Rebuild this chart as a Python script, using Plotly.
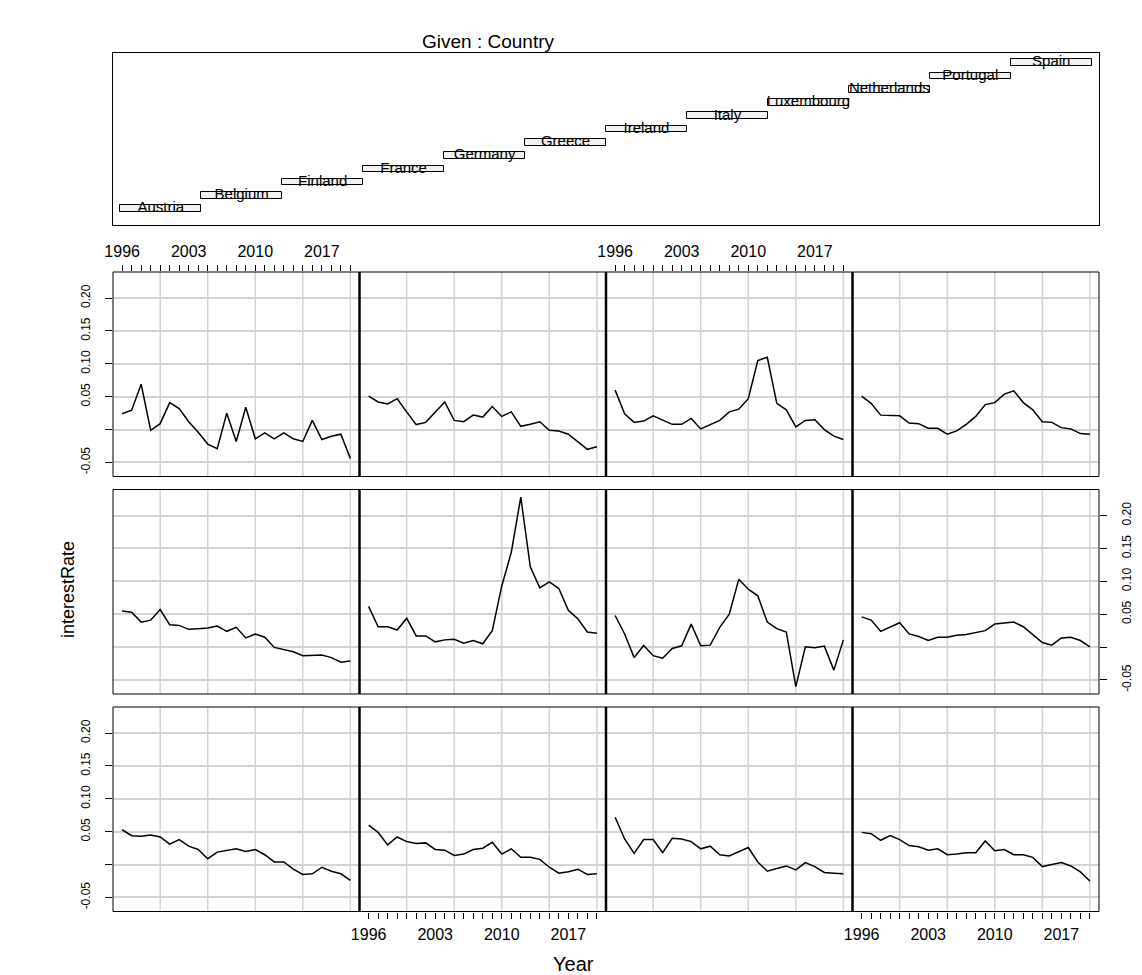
import plotly.graph_objects as go

W, H = 1142, 975

years = list(range(1996, 2021))
countries = ["Austria", "Belgium", "Finland", "France", "Germany", "Greece",
             "Ireland", "Italy", "Luxembourg", "Netherlands", "Portugal", "Spain"]

austria = [0.053, 0.044, 0.043, 0.045, 0.042, 0.031, 0.038, 0.028, 0.023, 0.009,
           0.019, 0.021, 0.024, 0.020, 0.023, 0.015, 0.004, 0.004, -0.007, -0.015,
           -0.014, -0.004, -0.010, -0.014, -0.024]
belgium = [0.060, 0.049, 0.030, 0.042, 0.035, 0.032, 0.033, 0.023, 0.022, 0.014,
           0.016, 0.023, 0.025, 0.034, 0.016, 0.024, 0.011, 0.011, 0.008, -0.004,
           -0.013, -0.011, -0.007, -0.015, -0.014]
finland = [0.072, 0.039, 0.017, 0.038, 0.038, 0.018, 0.040, 0.039, 0.035, 0.024,
           0.028, 0.015, 0.013, 0.020, 0.026, 0.004, -0.010, -0.006, -0.002, -0.008,
           0.003, -0.003, -0.012, -0.013, -0.014]
france = [0.049, 0.047, 0.037, 0.044, 0.038, 0.029, 0.027, 0.022, 0.024, 0.015,
          0.016, 0.018, 0.018, 0.036, 0.021, 0.023, 0.015, 0.015, 0.011, -0.003,
          0.000, 0.003, -0.002, -0.011, -0.025]
germany = [0.055, 0.053, 0.038, 0.041, 0.057, 0.034, 0.033, 0.027, 0.028, 0.029,
           0.032, 0.024, 0.030, 0.014, 0.020, 0.015, -0.0005, -0.004, -0.007, -0.013,
           -0.013, -0.012, -0.016, -0.023, -0.021]
greece = [0.062, 0.031, 0.031, 0.026, 0.044, 0.017, 0.017, 0.008, 0.011, 0.012,
          0.006, 0.010, 0.005, 0.025, 0.093, 0.144, 0.228, 0.122, 0.090, 0.099,
          0.089, 0.056, 0.043, 0.023, 0.021]
ireland = [0.048, 0.020, -0.016, 0.0025, -0.013, -0.017, -0.002, 0.002, 0.035, 0.002,
           0.003, 0.030, 0.050, 0.103, 0.088, 0.078, 0.038, 0.028, 0.023, -0.060,
           0.0005, -0.001, 0.0015, -0.035, 0.011]
italy = [0.046, 0.041, 0.024, 0.031, 0.037, 0.020, 0.016, 0.010, 0.015, 0.015,
         0.018, 0.019, 0.022, 0.025, 0.035, 0.037, 0.038, 0.031, 0.019, 0.007,
         0.003, 0.014, 0.015, 0.010, 0.0005]
luxembourg = [0.024, 0.0295, 0.069, -0.001, 0.009, 0.041, 0.032, 0.012, -0.004, -0.022,
              -0.029, 0.025, -0.018, 0.034, -0.014, -0.005, -0.014, -0.005, -0.014, -0.018,
              0.014, -0.015, -0.010, -0.007, -0.044]
netherlands = [0.051, 0.042, 0.039, 0.047, 0.027, 0.0076, 0.011, 0.026, 0.042, 0.014,
               0.012, 0.022, 0.019, 0.035, 0.020, 0.027, 0.005, 0.008, 0.012, -0.001,
               -0.002, -0.007, -0.018, -0.030, -0.026]
portugal = [0.060, 0.024, 0.011, 0.013, 0.021, 0.014, 0.008, 0.008, 0.017, 0.001,
            0.007, 0.014, 0.027, 0.031, 0.047, 0.105, 0.110, 0.040, 0.030, 0.004,
            0.014, 0.015, 0.000, -0.010, -0.015]
spain = [0.051, 0.040, 0.022, 0.022, 0.021, 0.010, 0.009, 0.002, 0.002, -0.007,
         -0.002, 0.008, 0.020, 0.038, 0.041, 0.054, 0.059, 0.041, 0.030, 0.012,
         0.011, 0.003, 0.001, -0.006, -0.007]

series = [austria, belgium, finland, france, germany, greece,
          ireland, italy, luxembourg, netherlands, portugal, spain]

x_tickvals = years
x_ticktext = [str(y) if y in (1996, 2003, 2010, 2017) else "" for y in years]
x_gridvals = [2000, 2005, 2010, 2015, 2020]
y_tickvals = [-0.05, 0.00, 0.05, 0.10, 0.15, 0.20]
y_ticktext = ["-0.05", "", "0.05", "0.10", "0.15", "0.20"]

XR = [1995.04, 2020.96]
YR = [-0.0713, 0.2396]

FONT = "Liberation Sans, Arial, sans-serif"
GRID = "#D3D3D3"


def px(x):
    return x / W


def py(y):
    return 1 - y / H


col_left = [113 + c * 246.5 for c in range(4)]
col_w = 246.5
row_top = [272, 489.5, 707]
row_h = 204.5

fig = go.Figure()
layout = {}
shapes = []

for k, (name, vals) in enumerate(zip(countries, series)):
    n = k + 1
    c = k % 4
    t = 2 - k // 4
    xa = "x" if n == 1 else f"x{n}"
    ya = "y" if n == 1 else f"y{n}"
    xkey = "xaxis" if n == 1 else f"xaxis{n}"
    ykey = "yaxis" if n == 1 else f"yaxis{n}"
    L = col_left[c]
    R = L + col_w
    T = row_top[t]
    B = T + row_h

    fig.add_trace(go.Scatter(x=years, y=vals, mode="lines", name=name,
                             line=dict(color="black", width=1.5),
                             xaxis=xa, yaxis=ya, showlegend=False,
                             hoverinfo="x+y"))

    xlab_top = (t == 0 and c in (0, 2))
    xlab_bot = (t == 2 and c in (1, 3))
    xd = dict(domain=[px(L), px(R)], range=XR, anchor=ya, automargin=False,
              showgrid=False, zeroline=False, showline=False,
              fixedrange=True)
    if xlab_top or xlab_bot:
        xd.update(side="top" if xlab_top else "bottom",
                  tickmode="array", tickvals=x_tickvals, ticktext=x_ticktext,
                  ticks="outside", ticklen=6, tickwidth=1, tickcolor="black",
                  showticklabels=True, ticklabelstandoff=2,
                  tickfont=dict(family=FONT, size=16, color="black"))
    else:
        xd.update(showticklabels=False, ticks="")
    layout[xkey] = xd

    ylab_left = (t in (0, 2) and c == 0)
    ylab_right = (t == 1 and c == 3)
    yd = dict(domain=[py(B), py(T)], range=YR, anchor=xa, automargin=False,
              showgrid=True, gridcolor=GRID, gridwidth=1.5,
              zeroline=False, showline=False, fixedrange=True,
              tickmode="array", tickvals=y_tickvals, ticktext=y_ticktext)
    if ylab_left or ylab_right:
        yd.update(side="left" if ylab_left else "right",
                  ticks="outside", ticklen=7, tickwidth=1, tickcolor="black",
                  showticklabels=True, tickangle=-90, ticklabelstandoff=10,
                  tickfont=dict(family=FONT, size=12, color="black"))
    else:
        yd.update(showticklabels=False, ticks="")
    layout[ykey] = yd

    for gx in x_gridvals:
        shapes.append(dict(type="line", xref=xa, yref=f"{ya} domain",
                           x0=gx, x1=gx, y0=0, y1=1,
                           line=dict(color=GRID, width=1.5), layer="below"))

    shapes.append(dict(type="rect", xref="paper", yref="paper",
                       x0=px(L), x1=px(R), y0=py(B), y1=py(T),
                       line=dict(color="black", width=1)))

# thicker shared borders between adjacent panels
for t in range(3):
    T = row_top[t]
    B = T + row_h
    for c in range(1, 4):
        xx = px(col_left[c])
        shapes.append(dict(type="line", xref="paper", yref="paper",
                           x0=xx, x1=xx, y0=py(B), y1=py(T),
                           line=dict(color="black", width=2.5)))

# Given panel
idx = list(range(1, len(countries) + 1))
fig.add_trace(go.Bar(x=idx, y=[0.5] * len(idx), base=idx, width=1.0,
                     marker=dict(color="#F2F2F2", line=dict(color="black", width=1)),
                     xaxis="x13", yaxis="y13", showlegend=False, hoverinfo="skip"))
fig.add_trace(go.Scatter(x=idx, y=[i + 0.25 for i in idx], text=countries,
                         mode="text", textposition="middle center",
                         textfont=dict(family=FONT, size=15, color="black"),
                         xaxis="x13", yaxis="y13", showlegend=False, hoverinfo="skip"))
layout["xaxis13"] = dict(domain=[px(113), px(1099)], range=[0.41, 12.59], anchor="y13",
                         automargin=False,
                         showgrid=False, zeroline=False, showticklabels=False, ticks="",
                         showline=True, mirror=True, linecolor="black", linewidth=1,
                         fixedrange=True)
layout["yaxis13"] = dict(domain=[py(225), py(53)], range=[0.02, 12.98], anchor="x13",
                         automargin=False,
                         showgrid=False, zeroline=False, showticklabels=False, ticks="",
                         showline=True, mirror=True, linecolor="black", linewidth=1,
                         fixedrange=True)

annotations = [
    dict(text="Given : Country", x=px(488), y=py(41), xref="paper", yref="paper",
         showarrow=False, font=dict(family=FONT, size=19, color="black"),
         xanchor="center", yanchor="middle"),
    dict(text="Year", x=px(573), y=py(964), xref="paper", yref="paper",
         showarrow=False, font=dict(family=FONT, size=20, color="black"),
         xanchor="center", yanchor="middle"),
    dict(text="interestRate", x=px(68), y=py(590), xref="paper", yref="paper",
         showarrow=False, textangle=-90, font=dict(family=FONT, size=18, color="black"),
         xanchor="center", yanchor="middle"),
]

fig.update_layout(
    template="none",
    width=W, height=H, autosize=False,
    margin=dict(l=0, r=0, t=0, b=0, pad=0, autoexpand=False),
    paper_bgcolor="white", plot_bgcolor="white",
    shapes=shapes, annotations=annotations,
    bargap=0, showlegend=False,
    font=dict(family=FONT, color="black"),
    **layout,
)

fig.write_html("out.html", config={"displayModeBar": False},
               post_script="document.body.style.margin='0';document.body.style.overflow='hidden';")
